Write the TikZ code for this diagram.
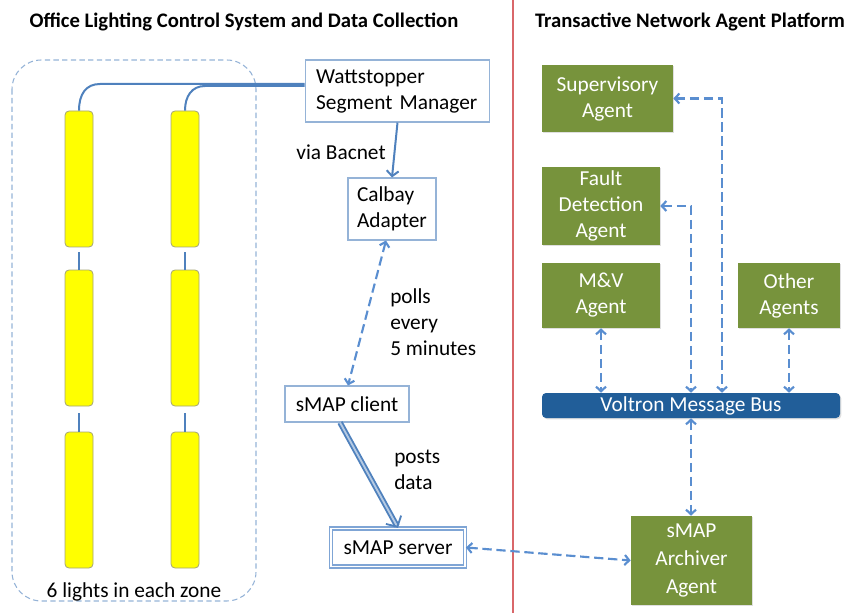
\documentclass[tikz,border=0pt]{standalone}
\usepackage{fontspec}
\setmainfont{Carlito}
\usetikzlibrary{arrows.meta,shadows,calc}
\definecolor{wire}{HTML}{4F81BD}
\definecolor{dashblue}{HTML}{5A8ED0}
\definecolor{boxline}{HTML}{95B3D7}
\definecolor{serverline}{HTML}{7FA5D5}
\definecolor{agentgreen}{HTML}{77933C}
\definecolor{busblue}{HTML}{215E99}
\definecolor{divider}{HTML}{D9676A}
\definecolor{lamp}{HTML}{FFFF00}
\definecolor{lampedge}{HTML}{A3A378}
\begin{document}
\begin{tikzpicture}[x=0.75pt,y=-0.75pt,
  every node/.style={font=\fontsize{16}{19.5}\selectfont, inner sep=0pt},
  title/.style={font=\fontsize{15.5}{18}\selectfont\bfseries},
  lightbar/.style={draw=lampedge, line width=0.6pt, fill=lamp, rounded corners=3pt,
    minimum width=21pt, minimum height=102pt},
  plainbox/.style={draw=boxline, line width=0.8pt, fill=white},
  agent/.style={fill=agentgreen, text=white, align=center,
    drop shadow={opacity=0.25, shadow xshift=1pt, shadow yshift=-1pt}},
  barb/.tip={Straight Barb[length=3.5pt,width=7.5pt]},
  link/.style={draw=dashblue, line width=1.6pt, dash pattern=on 7pt off 3.5pt, barb-barb},
  feed/.style={draw=wire, line width=1.5pt},
]
\useasboundingbox (0,0) rectangle (850,613);

% section titles and divider
\node[title] (tl) at (244,22) {Office Lighting Control System and Data Collection};
\node[title] (tr) at (690,22) {Transactive Network Agent Platform};
\draw[divider, line width=1.3pt] (513,0) -- (513,613);

% lighting zone
\draw[boxline, line width=0.8pt, dash pattern=on 4pt off 2.5pt, rounded corners=22pt]
  (12,60) rectangle (256,601);
\node (zone) at (134,592) {6 lights in each zone};

\node[lightbar] (l11) at (79,179) {};
\node[lightbar] (l12) at (185,179) {};
\node[lightbar] (l21) at (79,338) {};
\node[lightbar] (l22) at (185,338) {};
\node[lightbar] (l31) at (79,500) {};
\node[lightbar] (l32) at (185,500) {};

% control side boxes
\node[plainbox, minimum height=46.5pt, text width=122pt, inner xsep=8.25pt, align=left]
  (wm) at (397.5,91) {Wattstopper\\Segment Manager};
\node[plainbox, minimum height=46.5pt, text width=52.5pt, inner xsep=6.75pt, align=left]
  (cal) at (392,209) {Calbay\\Adapter};
\node[plainbox, minimum width=93pt, minimum height=27pt] (cli) at (347,404) {sMAP client};
\node[draw=serverline, line width=0.9pt, double=white, double distance=1.3pt,
  minimum width=101pt, minimum height=28.5pt] (srv) at (398,547.5) {sMAP server};

% wiring to the lights
\draw[feed] (wm.west |- 0,84) -- (100,84) .. controls (86,84) and (79,94) .. (l11.north);
\draw[feed] (wm.west |- 0,86) -- (205,86) .. controls (192,86) and (185,96) .. (l12.north);
\draw[feed] (l21.north) -- ++(0,-18);
\draw[feed] (l22.north) -- ++(0,-18);
\draw[feed] (l31.north) -- ++(0,-19);
\draw[feed] (l32.north) -- ++(0,-19);

% data path
\draw[feed, -{Straight Barb[length=4pt,width=9pt]}] (wm.south) -- (cal.north);
\node (bac) at (341,152) {via Bacnet};
\draw[link] ([xshift=-4.5pt]cal.south) -- ([xshift=0.75pt]cli.north);
\node[anchor=west, align=left] (poll) at (390,322) {polls\\every\\5 minutes};
\draw[draw=wire, line width=1.4pt, double=boxline!70!white, double distance=1.4pt,
  -{Straight Barb[length=6pt,width=13pt]}] ([xshift=-5.25pt]cli.south) -- (srv.north);
\node[anchor=west, align=left] (post) at (394,470) {posts\\data};

% agent platform
\node[agent, minimum width=98.25pt, minimum height=50.25pt] (sup) at (607.5,98.5) {Supervisory\\Agent};
\node[agent, minimum width=88.5pt, minimum height=58.5pt] (fd) at (601,206) {Fault\\Detection\\Agent};
\node[agent, minimum width=88.5pt, minimum height=48.75pt] (mv) at (601,295.5) {M\&V\\Agent};
\node[agent, minimum width=76.5pt, minimum height=48.75pt] (oth) at (789,295.5) {Other\\Agents};
\node[fill=busblue, text=white, rounded corners=3pt, minimum width=223.5pt, minimum height=18.75pt,
  drop shadow={opacity=0.25, shadow xshift=1pt, shadow yshift=-1pt}]
  (bus) at (691,405.5) {Voltron Message Bus};
\node[agent, minimum width=90.75pt, minimum height=66.75pt,
  font=\fontsize{16}{21}\selectfont] (arch) at (691.5,560.5) {sMAP\\Archiver\\Agent};

% message bus links
\draw[link] (sup.east) -| ([xshift=23.25pt]bus.north);
\draw[link] (fd.east) -| (bus.north);
\draw[link] (mv.south) -- (mv.south |- bus.north);
\draw[link] (oth.south) -- (oth.south |- bus.north);
\draw[link] (bus.south) -- (bus.south |- arch.north);
\draw[link] (srv.east) -- (arch.west);
\end{tikzpicture}
\end{document}
